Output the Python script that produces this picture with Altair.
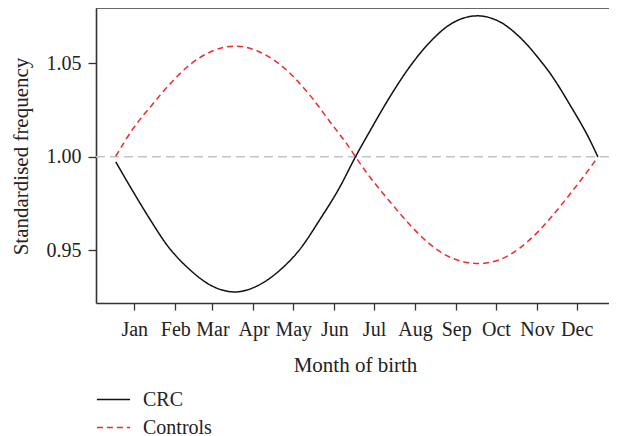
import altair as alt
import pandas as pd

# Day-of-year positions (x) and standardised frequency values
crc_day = [1, 14, 27, 40, 57, 74, 91, 108, 125, 140, 155, 170, 182, 193, 208, 223,
           238, 253, 274, 291, 306, 321, 329, 344, 359, 365]
crc_val = [0.9973, 0.9815, 0.9664, 0.9525, 0.9396, 0.9308, 0.9277, 0.9310, 0.9394,
           0.9505, 0.9663, 0.9836, 1.0000, 1.0139, 1.0321, 1.0482, 1.0612, 1.0706,
           1.0754, 1.0722, 1.0640, 1.0520, 1.0446, 1.0277, 1.0089, 1.0000]

ctl_day = [1, 14, 29, 42, 57, 74, 91, 108, 125, 148, 163, 178, 182, 193, 208, 223,
           238, 253, 275, 291, 306, 321, 329, 344, 359, 365]
ctl_val = [1.0003, 1.0150, 1.0283, 1.0390, 1.0493, 1.0566, 1.0592, 1.0566, 1.0494,
           1.0326, 1.0185, 1.0043, 1.0000, 0.9891, 0.9760, 0.9637, 0.9534, 0.9464,
           0.9429, 0.9450, 0.9512, 0.9608, 0.9671, 0.9801, 0.9940, 0.9998]

month_ticks = [15, 46, 74, 105, 135, 166, 196, 227, 258, 288, 319, 349]
month_labels = ["Jan", "Feb", "Mar", "Apr", "May", "Jun", "Jul", "Aug", "Sep",
                "Oct", "Nov", "Dec"]
y_ticks = [0.95, 1.00, 1.05]
series = ["CRC", "Controls"]
colors = ["#111111", "#ef2a2f"]
dashes = [[1, 0], [6, 4]]

df = pd.concat([
    pd.DataFrame({"day": crc_day, "value": crc_val, "series": "CRC"}),
    pd.DataFrame({"day": ctl_day, "value": ctl_val, "series": "Controls"}),
])

FONT = "Liberation Serif"
W, H = 513, 295

label_expr = "[" + ",".join(f"'{m}'" for m in month_labels) + "][indexof([" + \
    ",".join(str(t) for t in month_ticks) + "], datum.value)]"

x_scale = alt.Scale(domain=[-13.9, 373.4], nice=False, zero=False)
y_scale = alt.Scale(domain=[0.9218, 1.0796], nice=False, zero=False)

legend_cfg = dict(title=None, orient="none", legendX=0, legendY=374,
                  symbolType="stroke", symbolSize=1100, symbolStrokeWidth=1.5,
                  labelOffset=12, rowPadding=-10)

ref = alt.Chart(pd.DataFrame({"y": [1.0]})).mark_rule(
    color="#c4c4c4", strokeWidth=1.5, strokeDash=[9, 5]
).encode(y=alt.Y("y:Q", scale=y_scale))

top_border = alt.Chart(pd.DataFrame({"y": [0]})).mark_rule(
    color="#333333", strokeWidth=1.6
).encode(y=alt.value(0), x=alt.value(0), x2=alt.value(W + 10))

lines = alt.Chart(df).mark_line(strokeWidth=1.5, interpolate="monotone").encode(
    x=alt.X("day:Q", scale=x_scale,
            axis=alt.Axis(values=month_ticks, labelExpr=label_expr,
                          title="Month of birth", grid=False,
                          titleX=259, titleY=68, titleBaseline="alphabetic",
                          labelPadding=9, tickSize=7)),
    y=alt.Y("value:Q", scale=y_scale,
            axis=alt.Axis(values=y_ticks, format=".2f",
                          title="Standardised frequency", grid=False,
                          titleX=-69, titleY=148, titleBaseline="alphabetic",
                          labelPadding=7, tickSize=8)),
    color=alt.Color("series:N", scale=alt.Scale(domain=series, range=colors),
                    legend=alt.Legend(**legend_cfg)),
    strokeDash=alt.StrokeDash("series:N", scale=alt.Scale(domain=series, range=dashes),
                              legend=alt.Legend(**legend_cfg)),
)

chart = alt.layer(ref, lines, top_border).properties(
    width=W, height=H,
    autosize=alt.AutoSizeParams(type="none"),
    padding={"left": 88, "top": 0, "right": 0, "bottom": 137},
).configure_view(stroke=None).configure_axis(
    labelFont=FONT, titleFont=FONT, labelFontSize=20, titleFontSize=21,
    labelColor="#222222", titleColor="#222222", titleFontWeight="normal",
    domainColor="#333333", domainWidth=1.6, tickColor="#333333", tickWidth=1.3,
).configure_legend(
    labelFont=FONT, labelFontSize=20, labelColor="#222222",
)

chart.save("out.html", embed_options={"renderer": "svg", "actions": False})
